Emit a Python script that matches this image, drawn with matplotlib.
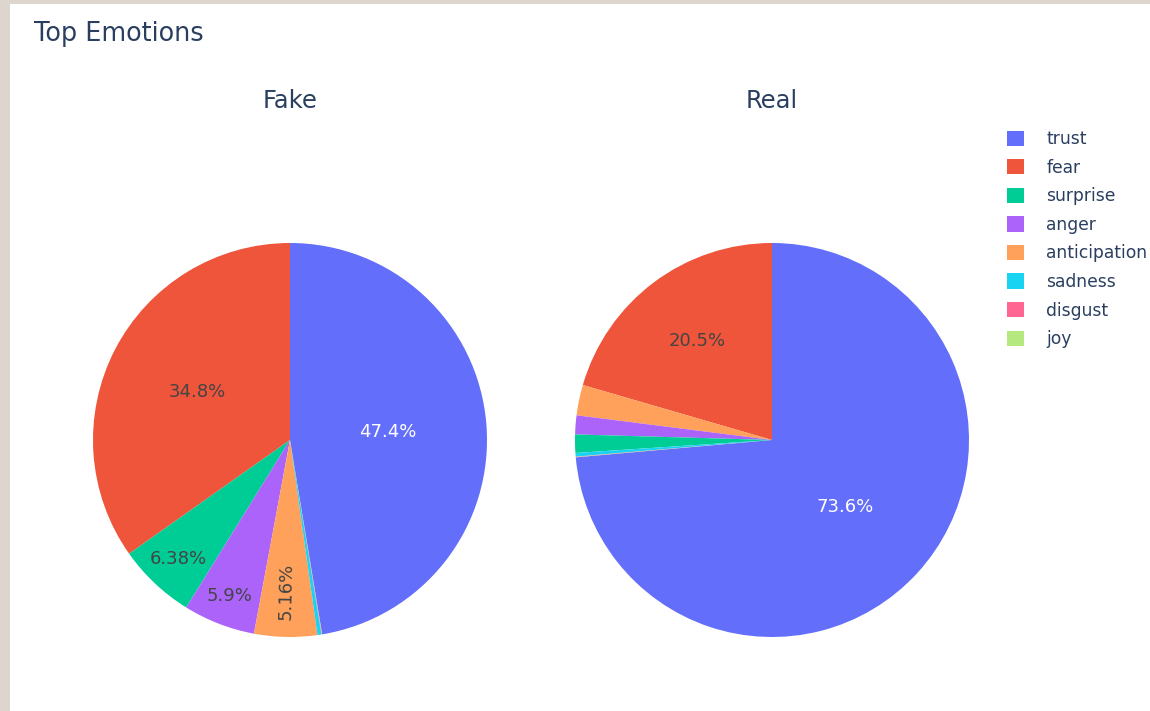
import matplotlib
matplotlib.use('Agg')
import matplotlib.pyplot as plt
from matplotlib.patches import Rectangle
import numpy as np

# ---------------- data ----------------
emotions = ['trust', 'fear', 'surprise', 'anger', 'anticipation', 'sadness', 'disgust', 'joy']
fake_pct = [47.4, 34.8, 6.38, 5.9, 5.16, 0.32, 0.04, 0.02]
real_pct = [73.6, 20.5, 1.5, 1.55, 2.5, 0.3, 0.03, 0.02]
subplot_titles = ['Fake', 'Real']
chart_title = 'Top Emotions'

# ---------------- style ----------------
colors = ['#636EFA', '#EF553B', '#00CC96', '#AB63FA', '#FFA15A', '#19D3F3', '#FF6692', '#B6E880']
color_of = dict(zip(emotions, colors))
text_r = {'Fake': {'trust': 0.5, 'fear': 0.53, 'surprise': 0.83, 'anger': 0.85, 'anticipation': 0.77},
          'Real': {'trust': 0.5, 'fear': 0.63}}
radial_text = {('Fake', 'anticipation')}
white_text = {'trust'}

plt.rcParams['font.family'] = ['DejaVu Sans']

W, H = 1150, 711
fig = plt.figure(figsize=(W / 100, H / 100), dpi=100)
fig.patch.set_facecolor('#ddd6ce')
fig.patches.append(Rectangle((10 / W, 0), 1, 1 - 4 / H, transform=fig.transFigure,
                             facecolor='white', edgecolor='none', zorder=-5))

TXT = '#2a3f5f'
centers = {'Fake': (290, 440), 'Real': (772, 440)}
R = 197

handles = {}
for name, vals in zip(subplot_titles, [fake_pct, real_pct]):
    cx, cy = centers[name]
    ax = fig.add_axes([(cx - R) / W, 1 - (cy + R) / H, 2 * R / W, 2 * R / H])
    ax.set_zorder(1)
    order = sorted(range(len(vals)), key=lambda i: -vals[i])
    labs = [emotions[i] for i in order]
    v = [vals[i] for i in order]
    tot = sum(v)
    wedges, _ = ax.pie(v, colors=[color_of[l] for l in labs], startangle=90 - 360 * v[0] / tot,
                       counterclock=True, radius=1, wedgeprops=dict(linewidth=0))
    for w, l, val in zip(wedges, labs, v):
        if name == 'Fake':
            handles[l] = w
        frac = val / tot
        if frac < 0.05:
            continue
        mid = np.deg2rad((w.theta1 + w.theta2) / 2)
        r = text_r[name].get(l, 0.7)
        rot = 0
        if (name, l) in radial_text:
            rot = np.rad2deg(mid) - 180
        ax.text(r * np.cos(mid), r * np.sin(mid), f'{frac * 100:.3g}%', ha='center', va='center',
                rotation=rot, rotation_mode='anchor', fontsize=13,
                color='white' if l in white_text else '#444444')
    ax.set_xlim(-1, 1)
    ax.set_ylim(-1, 1)
    ax.set_aspect('equal')
    ax.axis('off')
    fig.text(cx / W, 1 - 101 / H, name, ha='center', va='center', fontsize=17.5, color=TXT)

fig.text(34 / W, 1 - 34 / H, chart_title, ha='left', va='center', fontsize=18.4, color=TXT)

fig.legend(handles=[handles[e] for e in emotions], labels=emotions, loc='upper left',
           bbox_to_anchor=(1007 / W, 1 - 130 / H), frameon=False, fontsize=12.3,
           handlelength=1.0, handleheight=1.0, handletextpad=1.3, labelspacing=0.62,
           borderaxespad=0, borderpad=0, labelcolor=TXT)

fig.savefig('out.png', dpi=100, facecolor=fig.get_facecolor())
